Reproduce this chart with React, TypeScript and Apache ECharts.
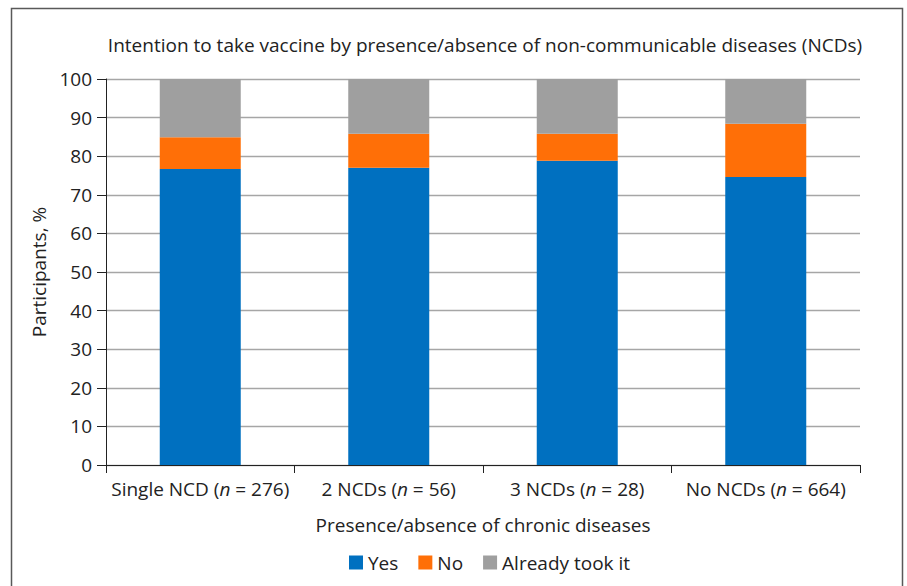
import React, { useEffect, useRef } from "react";
import * as echarts from "echarts";

const categories = ["Single NCD", "2 NCDs", "3 NCDs", "No NCDs"];
const sampleSizes = [276, 56, 28, 664];
const yesValues = [76.7, 77.0, 78.8, 74.6];
const noValues = [8.2, 8.8, 7.0, 13.8];
const tookValues = [15.1, 14.2, 14.2, 11.6];
const seriesNames = ["Yes", "No", "Already took it"];
const seriesColors = ["#0070c0", "#ff6f07", "#9f9f9f"];

const FONT = "'Open Sans', 'Noto Sans', sans-serif";
const FS = 19;

export default function App() {
  const ref = useRef<HTMLDivElement>(null);
  useEffect(() => {
    if (!ref.current) return;
    const chart = echarts.init(ref.current, null, { renderer: "svg" });
    const labels = categories.map((c, i) => `${c} ({i|n} = ${sampleSizes[i]})`);
    const data = [yesValues, noValues, tookValues];
    chart.setOption({
      animation: false,
      textStyle: { fontFamily: FONT },
      title: {
        text: "Intention to take vaccine by presence/absence of non-communicable diseases (NCDs)",
        left: 480,
        top: 30,
        textAlign: "center",
        textStyle: { fontSize: FS, fontWeight: "normal", color: "#222", fontFamily: FONT },
      },
      graphic: [
        {
          type: "rect",
          shape: { x: 11.5, y: 8.5, width: 891, height: 620 },
          style: { fill: "none", stroke: "#595959", lineWidth: 1.5 },
          silent: true,
        },
      ],
      legend: {
        top: 548,
        left: 344,
        itemWidth: 14,
        itemHeight: 14,
        itemGap: 20,
        icon: "rect",
        textStyle: { fontSize: FS, color: "#222", fontFamily: FONT },
        data: seriesNames,
      },
      grid: { left: 106, right: 47, top: 79, bottom: 121, containLabel: false },
      xAxis: {
        type: "category",
        data: labels,
        name: "Presence/absence of chronic diseases",
        nameLocation: "middle",
        nameGap: 50,
        nameTextStyle: { fontSize: FS, color: "#222", fontFamily: FONT },
        axisLine: { show: true, lineStyle: { color: "#222", width: 1 } },
        axisTick: { show: true, length: 8, lineStyle: { color: "#222" } },
        axisLabel: {
          fontSize: FS,
          color: "#222",
          margin: 14,
          fontFamily: FONT,
          interval: 0,
          rich: { i: { fontStyle: "italic", fontSize: FS, color: "#222", fontFamily: FONT } },
        },
      },
      yAxis: {
        type: "value",
        min: 0,
        max: 100,
        interval: 10,
        name: "Participants, %",
        nameLocation: "middle",
        nameGap: 56,
        nameTextStyle: { fontSize: FS, color: "#222", fontFamily: FONT },
        axisLine: { show: true, lineStyle: { color: "#222", width: 1 } },
        axisTick: { show: true, length: 9, lineStyle: { color: "#222" } },
        axisLabel: { fontSize: FS, color: "#222", margin: 14, fontFamily: FONT },
        splitLine: { show: true, lineStyle: { color: "#a6a6a6", width: 1.3 } },
      },
      series: seriesNames.map((name, k) => ({
        name,
        type: "bar",
        stack: "total",
        barWidth: 81,
        itemStyle: { color: seriesColors[k] },
        data: data[k],
      })),
    });
    return () => chart.dispose();
  }, []);
  return (
    <div
      ref={ref}
      style={{ position: "fixed", left: 0, top: 0, width: 907, height: 586, background: "#fff" }}
    />
  );
}
